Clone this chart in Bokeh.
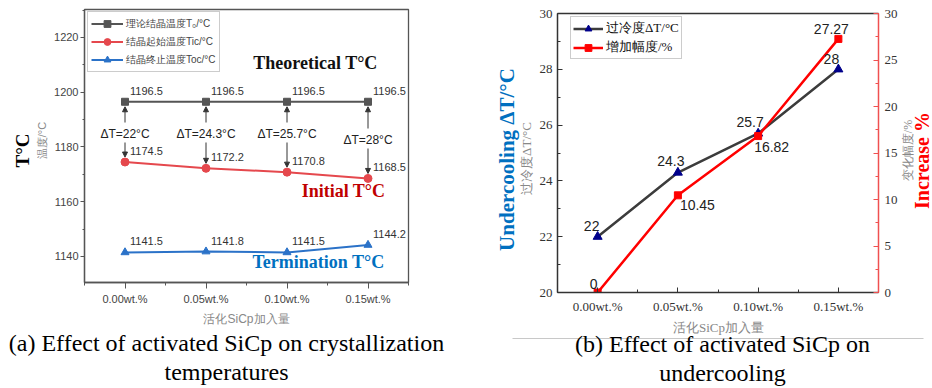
import math
from bokeh.plotting import figure
from bokeh.layouts import row, column
from bokeh.models import (Label, Arrow, NormalHead, LinearAxis, Range1d, FixedTicker,
                          SingleIntervalTicker, Legend, LegendItem)
from bokeh.embed import file_html
from bokeh.resources import INLINE

# ---- data -------------------------------------------------------------
categories = ["0.00wt.%", "0.05wt.%", "0.10wt.%", "0.15wt.%"]
t_theoretical = [1196.5, 1196.5, 1196.5, 1196.5]
t_initial = [1174.5, 1172.2, 1170.8, 1168.5]
t_termination = [1141.5, 1141.8, 1141.5, 1144.2]
undercooling = [22, 24.3, 25.7, 28]
increase_pct = [0, 10.45, 16.82, 27.27]

legend_a = ["理论结晶温度T₀/°C", "结晶起始温度Tic/°C", "结晶终止温度Toc/°C"]
legend_b = ["过冷度ΔT/°C", "增加幅度/%"]
x_title = "活化SiCp加入量"

xs = list(range(len(categories)))
X0, X1 = -0.5, len(categories) - 0.5
mid_ticks = [i - 0.5 for i in range(len(categories) + 1)]

SANS = "Liberation Sans"
SERIF = "Liberation Serif"
H = 388


def no_align(p):
    if "frame_align" in p.properties():
        p.frame_align = False
    return p


def text_canvas(x0, x1, y0, y1, frame_top, frame_bottom):
    """A plain canvas for free text whose data coordinates are page pixels."""
    s = figure(width=x1 - x0, height=y1 - y0, title=None,
               x_range=Range1d(x0, x1), y_range=Range1d(frame_bottom, frame_top),
               x_axis_type=None, y_axis_type=None,
               output_backend="svg", toolbar_location=None,
               min_border_left=0, min_border_right=0,
               min_border_top=frame_top - y0, min_border_bottom=y1 - frame_bottom)
    s.outline_line_color = None
    return no_align(s)


def put(p, x, y, txt, size, color, font=SERIF, bold=False, angle=0.0,
        align="center", baseline="middle"):
    p.add_layout(Label(x=x, y=y, text=txt, angle=angle, text_align=align,
                       text_baseline=baseline, text_font=font, text_font_size=size,
                       text_font_style="bold" if bold else "normal", text_color=color))


# ======================= panel (a) =====================================
A_L, A_R, A_T, A_B = 84, 408, 9, 282          # frame box in page pixels
A_W0, A_W1, A_H = 48, 466, 310                 # canvas of the chart
A_Y0, A_Y1 = 1130.5, 1230.2


def ax(px):
    return X0 + (px - A_L) / (A_R - A_L) * (X1 - X0)


def ay(py):
    return A_Y1 - (py - A_T) / (A_B - A_T) * (A_Y1 - A_Y0)


def ay_px(v):
    return A_T + (A_Y1 - v) / (A_Y1 - A_Y0) * (A_B - A_T)


pa = figure(width=A_W1 - A_W0, height=A_H, title=None,
            x_range=Range1d(X0, X1), y_range=Range1d(A_Y0, A_Y1),
            output_backend="svg", toolbar_location=None,
            min_border_left=A_L - A_W0, min_border_right=A_W1 - A_R,
            min_border_top=A_T, min_border_bottom=A_H - A_B)
no_align(pa)
pa.xgrid.visible = False
pa.ygrid.visible = False
pa.outline_line_color = "#555555"
pa.outline_line_width = 1.3

xa, ya = pa.below[0], pa.left[0]
xa.ticker = FixedTicker(ticks=xs, minor_ticks=mid_ticks)
xa.major_label_overrides = {i: c for i, c in enumerate(categories)}
ya.ticker = SingleIntervalTicker(interval=20, num_minor_ticks=2)
for axis in (xa, ya):
    axis.axis_line_color = "#555555"
    axis.axis_line_width = 1.3
    axis.major_tick_line_color = "#555555"
    axis.minor_tick_line_color = "#555555"
    axis.major_tick_in = 0
    axis.minor_tick_in = 0
    axis.major_label_text_font = SANS
    axis.major_label_text_font_size = "11px"
    axis.major_label_text_color = "#444444"
xa.major_tick_out = 6
xa.minor_tick_out = 3
xa.major_label_standoff = 4
ya.major_tick_out = 4
ya.minor_tick_out = 2
ya.major_label_standoff = 2

c_th, c_in, c_te = "#555555", "#e5484d", "#2b72c8"
l1 = pa.line(xs, t_theoretical, line_color=c_th, line_width=2)
m1 = pa.scatter(xs, t_theoretical, marker="square", size=7, fill_color=c_th, line_color=c_th)
l2 = pa.line(xs, t_initial, line_color=c_in, line_width=2)
m2 = pa.scatter(xs, t_initial, marker="circle", size=8, fill_color=c_in, line_color=c_in)
l3 = pa.line(xs, t_termination, line_color=c_te, line_width=2)
m3 = pa.scatter(xs, t_termination, marker="triangle", size=8, fill_color=c_te, line_color=c_te)

pa.add_layout(Legend(items=[LegendItem(label=legend_a[0], renderers=[l1, m1]),
                            LegendItem(label=legend_a[1], renderers=[l2, m2]),
                            LegendItem(label=legend_a[2], renderers=[l3, m3])],
                     location=(3, 210), padding=3, spacing=1, margin=0,
                     label_height=17, glyph_height=17, glyph_width=32, label_standoff=3,
                     label_text_font=SANS, label_text_font_size="10px",
                     label_text_color="#444444", border_line_color="#999999",
                     border_line_width=1, background_fill_alpha=1))

# value labels above each point
for series in (t_theoretical, t_initial, t_termination):
    for x, v in zip(xs, series):
        pa.add_layout(Label(x=x, y=v, text=f"{v:.1f}", x_offset=5, y_offset=11,
                            text_align="left", text_baseline="middle",
                            text_font=SANS, text_font_size="11px", text_color="#333333"))

# undercooling between the theoretical and the initial temperature
dt_label_py = [133, 133, 133, 139]
head = dict(size=5, fill_color="#333333", line_color="#333333")
for x, t0, ti, py in zip(xs, t_theoretical, t_initial, dt_label_py):
    dt = round(t0 - ti, 1)
    put(pa, x, ay(py), f"ΔT={dt:g}°C", "12px", "#222222", font=SANS)
    pa.add_layout(Arrow(x_start=x, y_start=ay(py - 11), x_end=x, y_end=ay(ay_px(t0) + 5),
                        line_color="#333333", line_width=1, end=NormalHead(**head)))
    pa.add_layout(Arrow(x_start=x, y_start=ay(py + 9), x_end=x, y_end=ay(ay_px(ti) - 5),
                        line_color="#333333", line_width=1, end=NormalHead(**head)))

# series names
put(pa, ax(315), ay(62), "Theoretical T°C", "18px", "#111111", bold=True)
put(pa, ax(343), ay(190), "Initial T°C", "18px", "#c00000", bold=True)
put(pa, ax(318), ay(261), "Termination T°C", "18px", "#0070c0", bold=True)

# y titles left of the axis
sa = text_canvas(0, A_W0, 0, A_H, A_T, A_B)
put(sa, 22, 150, "T°C", "19px", "#000000", bold=True, angle=math.pi / 2)
put(sa, 41, 140, "温度/°C", "11px", "#888888", font=SANS, angle=math.pi / 2)

# x title and caption
cap_a = text_canvas(0, A_W1, A_H, H, A_H, H)
put(cap_a, 246, 318, x_title, "12px", "#888888", font=SANS)
put(cap_a, 226, 342, "(a) Effect of activated SiCp on crystallization", "24px", "#000000")
put(cap_a, 226, 371, "temperatures", "24px", "#000000")

panel_a = column(row(sa, pa), cap_a)

# ======================= panel (b) =====================================
B_L, B_R, B_T, B_B = 557, 880, 13, 292
B_W0, B_W1, B_H = 535, 900, 316
P_LEFT = A_W1

pb = figure(width=B_W1 - B_W0, height=B_H, title=None,
            x_range=Range1d(X0, X1), y_range=Range1d(20, 30),
            output_backend="svg", toolbar_location=None,
            min_border_left=B_L - B_W0, min_border_right=B_W1 - B_R,
            min_border_top=B_T, min_border_bottom=B_H - B_B)
no_align(pb)
pb.extra_y_ranges = {"pct": Range1d(0, 30)}
pb.xgrid.visible = False
pb.ygrid.visible = False
pb.outline_line_color = None

xb, yb = pb.below[0], pb.left[0]
xb.ticker = FixedTicker(ticks=xs, minor_ticks=mid_ticks)
xb.major_label_overrides = {i: c for i, c in enumerate(categories)}
yb.ticker = SingleIntervalTicker(interval=2, num_minor_ticks=2)
yr = LinearAxis(y_range_name="pct", ticker=SingleIntervalTicker(interval=5, num_minor_ticks=2))
top = LinearAxis(ticker=FixedTicker(ticks=[]), major_label_text_font_size="0px",
                 major_tick_line_color=None, minor_tick_line_color=None,
                 major_tick_out=0, minor_tick_out=0, major_label_standoff=0,
                 axis_line_color="#333333", axis_line_width=1.5)
pb.add_layout(yr, "right")
pb.add_layout(top, "above")

for axis in (xb, yb, yr):
    axis.axis_line_color = "#333333"
    axis.axis_line_width = 1.5
    axis.major_tick_line_color = "#333333"
    axis.minor_tick_line_color = "#333333"
    axis.major_tick_out = 0
    axis.minor_tick_out = 0
    axis.major_tick_in = 5
    axis.minor_tick_in = 3
    axis.major_label_text_font = SERIF
    axis.major_label_text_font_size = "13px"
    axis.major_label_text_color = "#333333"
    axis.major_label_standoff = 5
xb.major_label_standoff = 6
red_axis = "#f05050"
yr.axis_line_color = red_axis
yr.major_tick_line_color = red_axis
yr.minor_tick_line_color = red_axis
yr.major_label_standoff = 6

c_uc_line, c_uc_mk, c_inc = "#3c3c3c", "#00008b", "#ff0000"
lb1 = pb.line(xs, undercooling, line_color=c_uc_line, line_width=2.5)
mb1 = pb.scatter(xs, undercooling, marker="triangle", size=9, fill_color=c_uc_mk,
                 line_color=c_uc_mk)
lb2 = pb.line(xs, increase_pct, line_color=c_inc, line_width=2.5, y_range_name="pct")
mb2 = pb.scatter(xs, increase_pct, marker="square", size=7, fill_color=c_inc,
                 line_color=c_inc, y_range_name="pct")

pb.add_layout(Legend(items=[LegendItem(label=legend_b[0], renderers=[lb1, mb1]),
                            LegendItem(label=legend_b[1], renderers=[lb2, mb2])],
                     location=(13, 233), padding=2, spacing=1, margin=0,
                     label_height=17, glyph_height=17, glyph_width=30, label_standoff=3,
                     label_text_font=SERIF, label_text_font_size="13px",
                     label_text_color="#111111", border_line_color="#999999",
                     border_line_width=1, background_fill_alpha=1))

# value labels
uc_off = [(-6, 11), (-7, 12), (-8, 11), (-7, 10)]
for x, v, (dx, dy) in zip(xs, undercooling, uc_off):
    pb.add_layout(Label(x=x, y=v, text=f"{v:g}", x_offset=dx, y_offset=dy,
                        text_align="center", text_baseline="middle",
                        text_font=SANS, text_font_size="14px", text_color="#222222"))
inc_off = [(-4, 9, "center"), (2, -10, "left"), (-4, -11, "left"), (-7, 10, "center")]
for x, v, (dx, dy, al) in zip(xs, increase_pct, inc_off):
    pb.add_layout(Label(x=x, y=v, y_range_name="pct", text=f"{v:g}", x_offset=dx,
                        y_offset=dy, text_align=al, text_baseline="middle",
                        text_font=SANS, text_font_size="14px", text_color="#222222"))

# axis titles on both sides
sb = text_canvas(P_LEFT, B_W0, 0, B_H, B_T, B_B)
put(sb, 506, 159, "Undercooling ΔT/°C", "21px", "#0070c0", bold=True, angle=math.pi / 2)
put(sb, 526, 158, "过冷度ΔT/°C", "13px", "#888888", angle=math.pi / 2)
sc = text_canvas(B_W1, 932, 0, B_H, B_T, B_B)
put(sc, 907, 150, "变化幅度/%", "12px", "#888888", angle=math.pi / 2)
put(sc, 921, 160, "Increase %", "20px", "#ff0000", bold=True, angle=math.pi / 2)

# x title, caption rule and caption
cap_b = text_canvas(P_LEFT, 932, B_H, H, B_H, H)
put(cap_b, 718, 327, x_title, "13px", "#888888")
cap_b.segment(x0=[512], y0=[338], x1=[923], y1=[338], line_color="#c8c8c8", line_width=1)
put(cap_b, 722, 343, "(b) Effect of activated SiCp on", "24px", "#000000")
put(cap_b, 722, 372, "undercooling", "24px", "#000000")

panel_b = column(row(sb, pb, sc), cap_b)

layout = row(panel_a, panel_b)
open("out.html", "w").write(file_html(layout, INLINE))
